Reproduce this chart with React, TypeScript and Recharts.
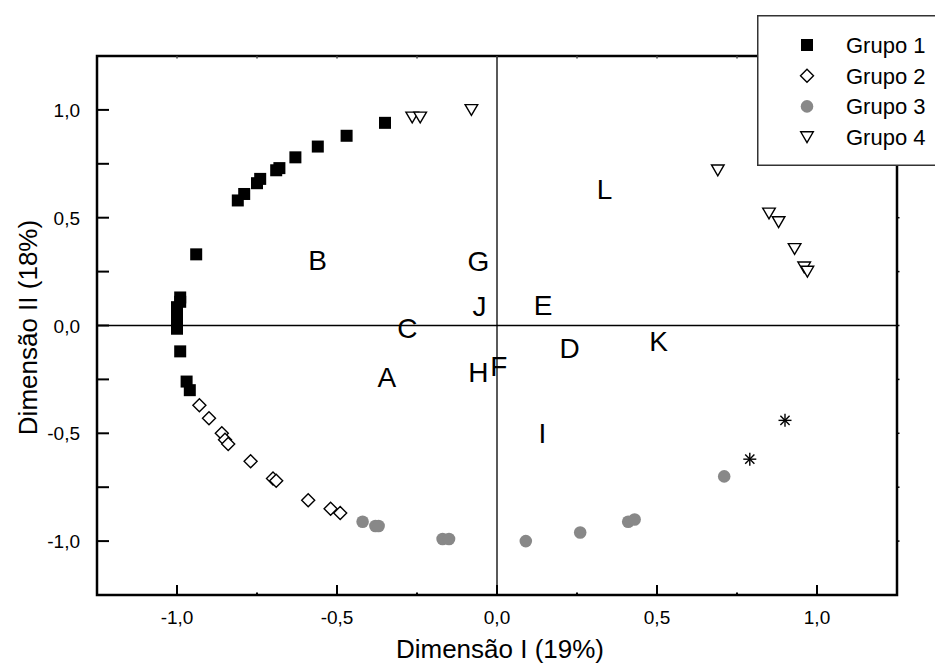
import React from 'react';
import { ScatterChart, Scatter, XAxis, YAxis, ReferenceLine, ReferenceArea, Legend } from 'recharts';

const FONT = '"Liberation Sans", Arial, Helvetica, sans-serif';

// Grupo 1 (black squares)
const group1X = [-0.35, -0.47, -0.56, -0.63, -0.68, -0.69, -0.74, -0.75, -0.79, -0.81, -0.94, -0.99, -0.99, -1.0, -1.0, -1.0, -0.99, -0.97, -0.96];
const group1Y = [0.94, 0.88, 0.83, 0.78, 0.73, 0.72, 0.68, 0.66, 0.61, 0.58, 0.33, 0.13, 0.11, 0.085, 0.035, -0.015, -0.12, -0.26, -0.3];
// Grupo 2 (open diamonds)
const group2X = [-0.93, -0.9, -0.86, -0.85, -0.84, -0.77, -0.7, -0.69, -0.59, -0.52, -0.49];
const group2Y = [-0.37, -0.43, -0.5, -0.53, -0.55, -0.63, -0.71, -0.72, -0.81, -0.85, -0.87];
// Grupo 3 (gray circles)
const group3X = [-0.42, -0.38, -0.37, -0.17, -0.15, 0.09, 0.26, 0.41, 0.43, 0.71];
const group3Y = [-0.91, -0.93, -0.93, -0.99, -0.99, -1.0, -0.96, -0.91, -0.9, -0.7];
// Grupo 4 (open down triangles)
const group4X = [-0.265, -0.24, -0.08, 0.69, 0.85, 0.88, 0.93, 0.96, 0.97];
const group4Y = [0.965, 0.965, 1.0, 0.72, 0.52, 0.48, 0.355, 0.27, 0.25];
// Asterisks (not in legend)
const starX = [0.9, 0.79];
const starY = [-0.44, -0.62];
// Letter labels
const labelNames = ['A', 'B', 'C', 'D', 'E', 'F', 'G', 'H', 'I', 'J', 'K', 'L'];
const labelX = [-0.344, -0.561, -0.28, 0.227, 0.144, 0.006, -0.058, -0.058, 0.142, -0.055, 0.505, 0.336];
const labelY = [-0.24, 0.303, -0.011, -0.103, 0.096, -0.187, 0.3, -0.217, -0.497, 0.091, -0.071, 0.635];

const axisDomain = [-1.25, 1.25];
const axisTicks = [-1, -0.75, -0.5, -0.25, 0, 0.25, 0.5, 0.75, 1];
const axisTickLabels = ['-1,0', '', '-0,5', '', '0,0', '', '0,5', '', '1,0'];
const legendNames = ['Grupo 1', 'Grupo 2', 'Grupo 3', 'Grupo 4'];

const toPoints = (xs: number[], ys: number[]) => xs.map((x, i) => ({ x, y: ys[i] }));
const group1 = toPoints(group1X, group1Y);
const group2 = toPoints(group2X, group2Y);
const group3 = toPoints(group3X, group3Y);
const group4 = toPoints(group4X, group4Y);
const stars = toPoints(starX, starY);
const letters = labelNames.map((name, i) => ({ x: labelX[i], y: labelY[i], name }));

const tickLabel = (v: number) => {
  const i = axisTicks.findIndex((t) => Math.abs(t - v) < 1e-9);
  return i >= 0 ? axisTickLabels[i] : '';
};

const SquareShape = (p: any) => (
  <rect x={p.cx - 6} y={p.cy - 6} width={12} height={12} fill="#000" />
);
const DiamondShape = (p: any) => (
  <polygon
    points={`${p.cx},${p.cy - 6.5} ${p.cx + 6.5},${p.cy} ${p.cx},${p.cy + 6.5} ${p.cx - 6.5},${p.cy}`}
    fill="#fff"
    stroke="#000"
    strokeWidth={1.4}
  />
);
const CircleShape = (p: any) => <circle cx={p.cx} cy={p.cy} r={6.3} fill="#888888" />;
const TriangleShape = (p: any) => (
  <polygon
    points={`${p.cx - 6.3},${p.cy - 5.3} ${p.cx + 6.3},${p.cy - 5.3} ${p.cx},${p.cy + 5.5}`}
    fill="#fff"
    stroke="#000"
    strokeWidth={1.4}
  />
);
const StarShape = (p: any) => {
  const r = 6.5;
  const d = r * 0.7071;
  return (
    <g stroke="#000" strokeWidth={1.4}>
      <line x1={p.cx - r} y1={p.cy} x2={p.cx + r} y2={p.cy} />
      <line x1={p.cx} y1={p.cy - r} x2={p.cx} y2={p.cy + r} />
      <line x1={p.cx - d} y1={p.cy - d} x2={p.cx + d} y2={p.cy + d} />
      <line x1={p.cx - d} y1={p.cy + d} x2={p.cx + d} y2={p.cy - d} />
    </g>
  );
};
const LetterShape = (p: any) => (
  <text x={p.cx} y={p.cy + 10} textAnchor="middle" fontSize={28} fontFamily={FONT} fill="#000">
    {p.payload?.name}
  </text>
);

const legendShapes = [SquareShape, DiamondShape, CircleShape, TriangleShape];

const BottomTick = (p: any) => {
  const v = p.payload.value;
  const lbl = tickLabel(v);
  const major = lbl !== '';
  return (
    <g>
      <line x1={p.x} x2={p.x} y1={p.y} y2={p.y - (major ? 10 : 2.5)} stroke="#000" strokeWidth={2} />
      {major && (
        <text x={p.x} y={p.y + 29} textAnchor="middle" fontSize={19} fontFamily={FONT} fill="#000">
          {lbl}
        </text>
      )}
    </g>
  );
};
const LeftTick = (p: any) => {
  const v = p.payload.value;
  const lbl = tickLabel(v);
  return (
    <g>
      <line x1={p.x} x2={p.x + 12} y1={p.y} y2={p.y} stroke="#000" strokeWidth={2} />
      {lbl !== '' && (
        <text x={p.x - 17} y={p.y + 7} textAnchor="end" fontSize={19} fontFamily={FONT} fill="#000">
          {lbl}
        </text>
      )}
    </g>
  );
};
const TopTick = (p: any) => (
  <line x1={p.x} x2={p.x} y1={p.y} y2={p.y + 2.5} stroke="#444" strokeWidth={1.5} />
);
const RightTick = (p: any) => (
  <line x1={p.x} x2={p.x + 2.5} y1={p.y} y2={p.y} stroke="#000" strokeWidth={1.5} />
);

const LegendBox = () => (
  <svg width={178} height={151} style={{ display: 'block' }}>
    <rect x={0.75} y={0.75} width={200} height={149.5} fill="#fff" stroke="#333" strokeWidth={1.5} />
    {legendNames.map((name, i) => {
      const Shape = legendShapes[i];
      const cy = 30 + i * 30.7;
      return (
        <g key={name}>
          <Shape cx={50} cy={cy} />
          <text x={89} y={cy + 8} fontSize={22} fontFamily={FONT} fill="#000">
            {name}
          </text>
        </g>
      );
    })}
  </svg>
);

export default function App() {
  return (
    <div style={{ position: 'absolute', left: 0, top: 0, width: 935, height: 669, background: '#fff' }}>
      <ScatterChart width={935} height={669} margin={{ top: 55, right: 37, bottom: 24, left: 37 }}>
        <XAxis
          dataKey="x"
          type="number"
          domain={axisDomain}
          allowDataOverflow
          ticks={axisTicks}
          interval={0}
          height={50}
          tickSize={0}
          tickMargin={0}
          tickLine={false}
          axisLine={false}
          tick={<BottomTick />}
          label={(lp: any) => {
            const vb = lp.viewBox || { x: 97, y: 595, width: 800 };
            return (
              <text
                x={vb.x + vb.width / 2 + 3}
                y={vb.y + 63}
                textAnchor="middle"
                fontSize={26}
                fontFamily={FONT}
                fill="#000"
              >
                Dimensão I (19%)
              </text>
            );
          }}
        />
        <XAxis
          xAxisId="top"
          orientation="top"
          dataKey="x"
          type="number"
          domain={axisDomain}
          allowDataOverflow
          ticks={axisTicks}
          interval={0}
          height={1}
          tickSize={0}
          tickMargin={0}
          tickLine={false}
          axisLine={false}
          tick={<TopTick />}
        />
        <YAxis
          dataKey="y"
          type="number"
          domain={axisDomain}
          allowDataOverflow
          ticks={axisTicks}
          interval={0}
          width={60}
          tickSize={0}
          tickMargin={0}
          tickLine={false}
          axisLine={false}
          tick={<LeftTick />}
          label={(lp: any) => {
            const vb = lp.viewBox || { x: 37, y: 56, width: 60, height: 539 };
            const cx = 28;
            const cy = vb.y + vb.height / 2 + 2;
            return (
              <text
                x={cx}
                y={cy}
                dy={9}
                transform={`rotate(-90 ${cx} ${cy})`}
                textAnchor="middle"
                fontSize={26}
                fontFamily={FONT}
                fill="#000"
              >
                Dimensão II (18%)
              </text>
            );
          }}
        />
        <YAxis
          yAxisId="right"
          orientation="right"
          dataKey="y"
          type="number"
          domain={axisDomain}
          allowDataOverflow
          ticks={axisTicks}
          interval={0}
          width={1}
          tickSize={0}
          tickMargin={0}
          tickLine={false}
          axisLine={false}
          tick={<RightTick />}
        />
        <ReferenceArea
          x1={axisDomain[0]}
          x2={axisDomain[1]}
          y1={axisDomain[0]}
          y2={axisDomain[1]}
          fill="none"
          fillOpacity={0}
          stroke="#000"
          strokeWidth={2.5}
          ifOverflow="visible"
        />
        <ReferenceLine x={0} stroke="#000" strokeWidth={1.3} />
        <ReferenceLine y={0} stroke="#000" strokeWidth={1.3} />
        <Scatter name="labels" data={letters} shape={LetterShape} isAnimationActive={false} legendType="none" />
        <Scatter name="Grupo 1" data={group1} shape={SquareShape} isAnimationActive={false} />
        <Scatter name="Grupo 2" data={group2} shape={DiamondShape} isAnimationActive={false} />
        <Scatter name="Grupo 3" data={group3} shape={CircleShape} isAnimationActive={false} />
        <Scatter name="Grupo 4" data={group4} shape={TriangleShape} isAnimationActive={false} />
        <Scatter name="extra" data={stars} shape={StarShape} isAnimationActive={false} legendType="none" />
        <Legend
          layout="vertical"
          align="center"
          verticalAlign="middle"
          content={() => <LegendBox />}
          wrapperStyle={{ left: 757, top: 15, width: 178, height: 151, margin: 0, padding: 0 }}
        />
      </ScatterChart>
    </div>
  );
}
